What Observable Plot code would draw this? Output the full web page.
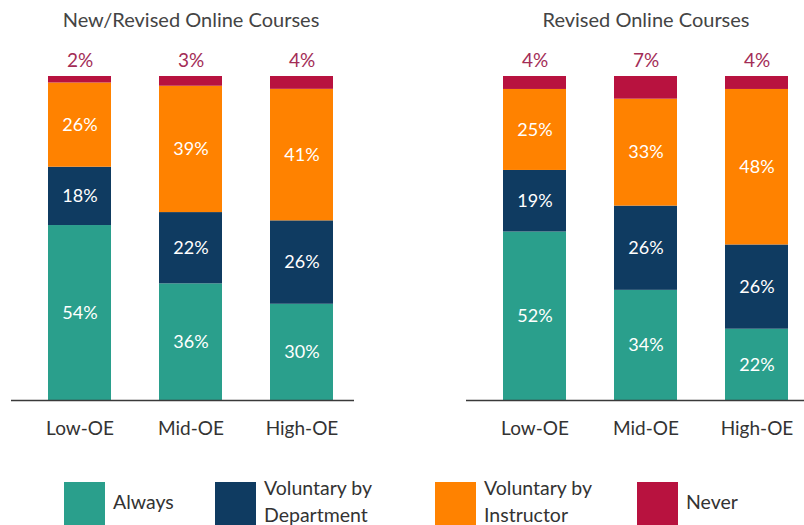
<!DOCTYPE html>
<html>
<head>
<meta charset="utf-8">
<script src="https://cdn.jsdelivr.net/npm/d3@7"></script>
<script src="https://cdn.jsdelivr.net/npm/@observablehq/plot@0.6"></script>
<style>
  html, body { margin: 0; padding: 0; background: #fff; }
  body { width: 804px; height: 525px; overflow: hidden; position: relative; font-family: Lato, "Open Sans", sans-serif; }
  .panel { position: absolute; top: 0; width: 402px; height: 445px; }
  .panel svg { max-width: none !important; width: 402px; height: 445px; }
  .legend { position: absolute; left: 0; top: 0; width: 804px; height: 525px; pointer-events: none; }
  .item { position: absolute; top: 482px; display: flex; align-items: flex-start; }
  .sw { width: 41px; height: 46px; }
  .lab { font-size: 19.5px; color: #333; line-height: 27px; margin-left: 8px; }
  .lab.one { margin-top: 6px; }
  .lab.two { margin-top: -8px; }
</style>
</head>
<body>
<div id="left" class="panel" style="left:0px"></div>
<div id="right" class="panel" style="left:455px"></div>
<div id="legend" class="legend"></div>
<script>
const categories = ["Low-OE", "Mid-OE", "High-OE"];
const series = ["Always", "Voluntary by Department", "Voluntary by Instructor", "Never"];
const colors = ["#2a9f8c", "#0f3b61", "#ff8200", "#b8123f"];
const titles = ["New/Revised Online Courses", "Revised Online Courses"];

// New/Revised Online Courses
const leftAlways = [54, 36, 30];
const leftDept = [18, 22, 26];
const leftInstr = [26, 39, 41];
const leftNever = [2, 3, 4];

// Revised Online Courses
const rightAlways = [52, 34, 22];
const rightDept = [19, 26, 26];
const rightInstr = [25, 33, 48];
const rightNever = [4, 7, 4];

function table(cols) {
  const rows = [];
  categories.forEach((c, i) => {
    series.forEach((s, j) => rows.push({cat: c, series: s, value: cols[j][i]}));
  });
  return rows;
}

function panel(rows, title) {
  return Plot.plot({
    width: 402,
    height: 445,
    marginTop: 76,
    marginBottom: 45,
    marginLeft: 36,
    marginRight: 57,
    style: {fontFamily: "Lato, 'Open Sans', sans-serif", background: "transparent"},
    x: {domain: categories, paddingInner: 0.436, paddingOuter: 0.1},
    y: {domain: [0, 1], axis: null},
    color: {domain: series, range: colors},
    marks: [
      Plot.barY(rows, Plot.stackY({offset: "normalize", order: series}, {x: "cat", y: "value", z: "series", fill: "series"})),
      Plot.text(rows, Plot.stackY({offset: "normalize", order: series}, {
        x: "cat", y: "value", z: "series",
        text: d => d.series === "Never" ? "" : d.value + "%",
        fill: "#ffffff", fontSize: 18
      })),
      Plot.text(rows.filter(d => d.series === "Never"), {
        x: "cat", frameAnchor: "top", lineAnchor: "middle", dy: -16,
        text: d => d.value + "%", fill: "#a32c56", fontSize: 19
      }),
      Plot.ruleY([0], {stroke: "#3a3a3a", strokeWidth: 1.6, insetLeft: -25, insetRight: -9}),
      Plot.axisX({tickSize: 0, tickPadding: 21, fontSize: 19, fill: "#333", label: null}),
      Plot.text([title], {frameAnchor: "top", lineAnchor: "middle", dy: -56, text: d => d, fontSize: 20, fill: "#444"})
    ]
  });
}

document.getElementById("left").append(panel(table([leftAlways, leftDept, leftInstr, leftNever]), titles[0]));
document.getElementById("right").append(panel(table([rightAlways, rightDept, rightInstr, rightNever]), titles[1]));

// legend
const legendLabels = [["Always"], ["Voluntary by", "Department"], ["Voluntary by", "Instructor"], ["Never"]];
const legendLeft = [64, 215, 435, 637];
const legend = document.getElementById("legend");
series.forEach((s, i) => {
  const item = document.createElement("div");
  item.className = "item";
  item.style.left = legendLeft[i] + "px";
  const sw = document.createElement("div");
  sw.className = "sw";
  sw.style.background = colors[i];
  const lab = document.createElement("div");
  lab.className = "lab " + (legendLabels[i].length > 1 ? "two" : "one");
  lab.innerHTML = legendLabels[i].join("<br>");
  item.append(sw, lab);
  legend.append(item);
});
</script>
</body>
</html>
